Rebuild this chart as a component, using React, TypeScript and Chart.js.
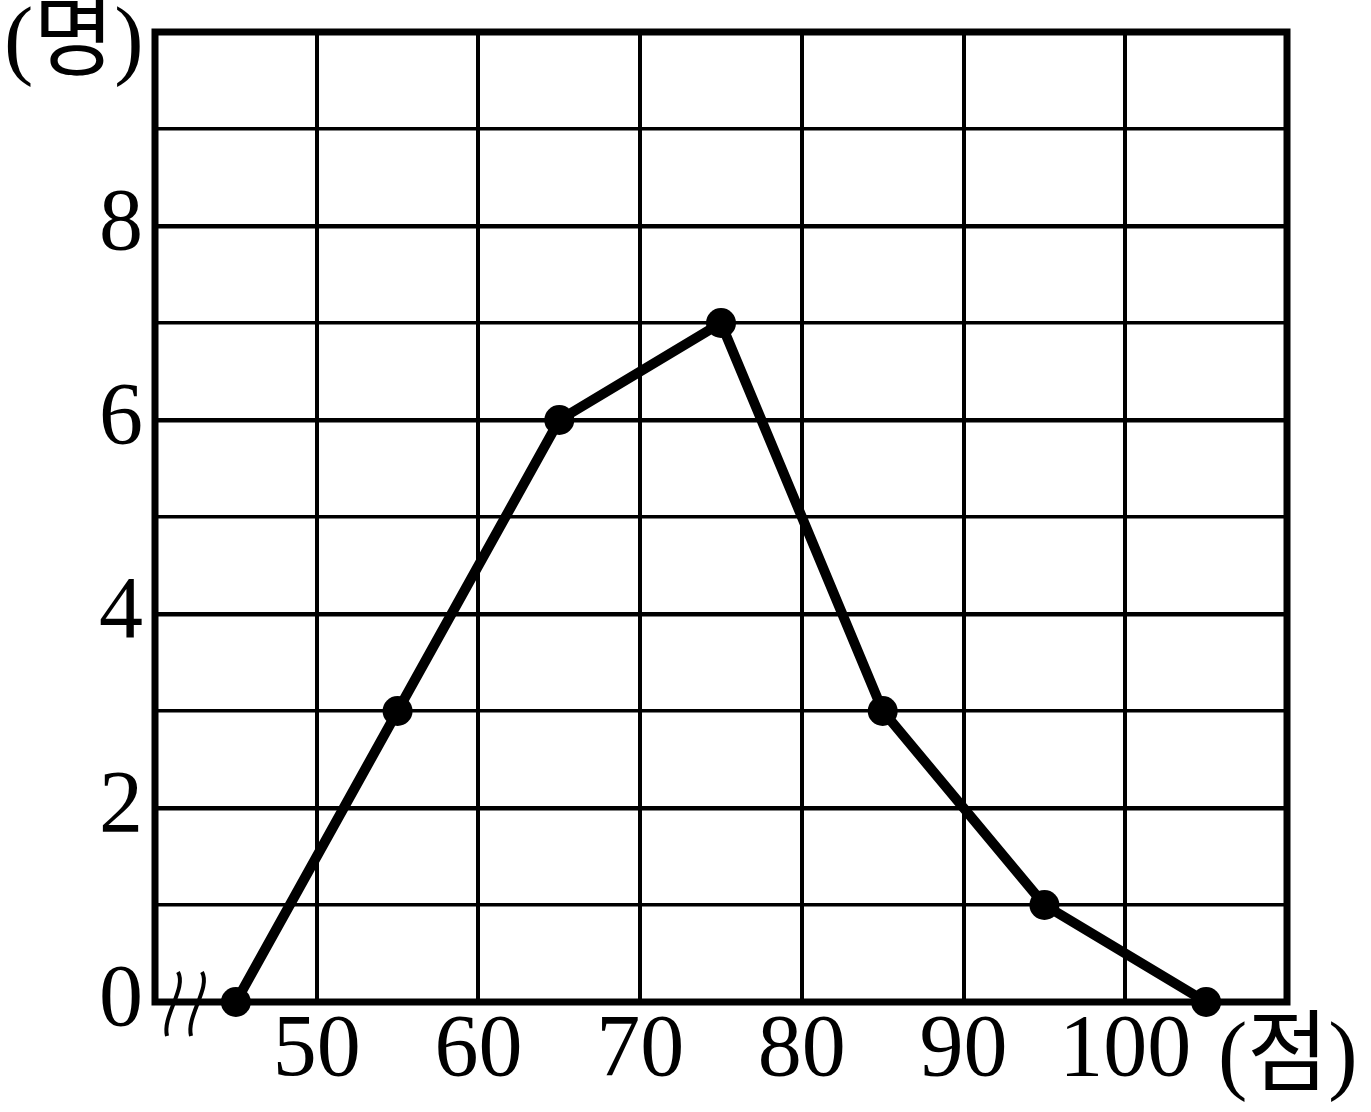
import React, { useEffect, useRef } from "react";
import { Chart, registerables } from "chart.js";

Chart.register(...registerables);

const scores = [45, 55, 65, 75, 85, 95, 105];
const counts = [0, 3, 6, 7, 3, 1, 0];
const xTickLabels = [50, 60, 70, 80, 90, 100];
const yTickLabels = [0, 2, 4, 6, 8];
const yTitle = "(명)";
const xTitle = "(점)";

const FONT = "'Liberation Serif', 'Noto Sans CJK KR', serif";

const framePlugin = {
  id: "frameAndMarks",
  beforeDatasetsDraw(chart: any) {
    const { ctx, chartArea } = chart;
    ctx.save();
    ctx.strokeStyle = "#000";
    ctx.lineWidth = 7;
    ctx.lineJoin = "miter";
    ctx.strokeRect(chartArea.left, chartArea.top, chartArea.right - chartArea.left, chartArea.bottom - chartArea.top);
    ctx.restore();
  },
  afterDraw(chart: any) {
    const { ctx, chartArea } = chart;
    ctx.save();
    ctx.strokeStyle = "#000";
    ctx.lineWidth = 4;
    ctx.lineCap = "butt";
    const b = chartArea.bottom;
    for (const off of [0, 24]) {
      const x0 = chartArea.left + 23 + off;
      ctx.beginPath();
      ctx.moveTo(x0, b - 30);
      ctx.bezierCurveTo(x0 + 9, b - 14, x0 - 16, b + 14, x0 - 11, b + 34);
      ctx.stroke();
    }
    ctx.fillStyle = "#000";
    ctx.font = `88px ${FONT}`;
    ctx.textBaseline = "middle";
    ctx.textAlign = "left";
    ctx.fillText(yTitle, 4, 45);
    ctx.fillText(xTitle, 1218, 1060);
    ctx.restore();
  },
};

export default function App() {
  const ref = useRef<HTMLCanvasElement | null>(null);
  useEffect(() => {
    if (!ref.current) return;
    const chart = new Chart(ref.current, {
      type: "line",
      data: {
        datasets: [
          {
            data: scores.map((s, i) => ({ x: s, y: counts[i] })),
            borderColor: "#000",
            backgroundColor: "#000",
            borderWidth: 10,
            pointRadius: 15,
            pointBackgroundColor: "#000",
            pointBorderWidth: 0,
            tension: 0,
            clip: false as any,
          },
        ],
      },
      options: {
        animation: false,
        responsive: false,
        maintainAspectRatio: false,
        layout: { padding: { left: 0, top: 32, right: 84, bottom: 0 } },
        plugins: { legend: { display: false }, tooltip: { enabled: false } },
        scales: {
          x: {
            type: "linear",
            min: 40,
            max: 110,
            afterFit: (s: any) => {
              s.height = 110;
              s.paddingLeft = 0;
              s.paddingRight = 0;
            },
            afterBuildTicks: (s: any) => {
              const t = [];
              for (let v = 40; v <= 110; v += 10) t.push({ value: v });
              s.ticks = t;
            },
            ticks: {
              autoSkip: false,
              maxRotation: 0,
              padding: -3,
              color: "#000",
              font: { family: FONT, size: 88 },
              callback: (v: any) => (xTickLabels.includes(Number(v)) ? String(v) : ""),
            },
            grid: {
              color: "#000",
              drawTicks: false,
              lineWidth: (c: any) => (c.tick && (c.tick.value === 40 || c.tick.value === 110) ? 0 : 4),
            },
            border: { display: false },
          },
          y: {
            type: "linear",
            min: 0,
            max: 10,
            afterFit: (s: any) => {
              s.width = 155;
              s.paddingTop = 0;
              s.paddingBottom = 0;
            },
            afterBuildTicks: (s: any) => {
              const t = [];
              for (let v = 0; v <= 10; v += 1) t.push({ value: v });
              s.ticks = t;
            },
            ticks: {
              autoSkip: false,
              padding: 12,
              color: "#000",
              font: { family: FONT, size: 88 },
              callback: (v: any) => (yTickLabels.includes(Number(v)) ? String(v) : ""),
            },
            grid: {
              color: "#000",
              drawTicks: false,
              lineWidth: (c: any) => {
                const v = c.tick ? c.tick.value : -1;
                if (v === 0 || v === 10) return 0;
                return v % 2 === 0 ? 4.5 : 3.5;
              },
            },
            border: { display: false },
          },
        },
      },
      plugins: [framePlugin],
    });
    return () => chart.destroy();
  }, []);
  return (
    <div style={{ position: "fixed", left: 0, top: 0, width: 1371, height: 1112, background: "#fff" }}>
      <canvas ref={ref} width={1371} height={1112} style={{ width: 1371, height: 1112 }} />
    </div>
  );
}
